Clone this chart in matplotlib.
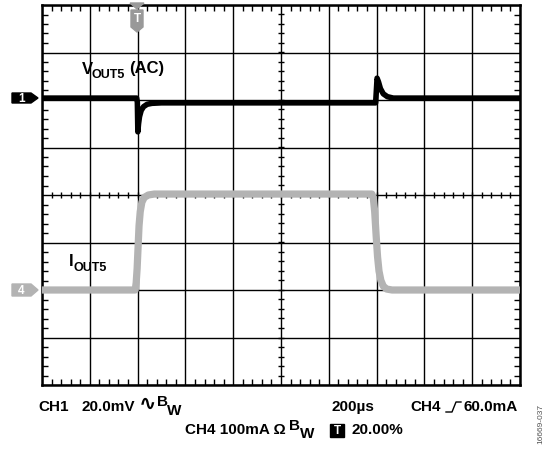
import matplotlib.pyplot as plt
import numpy as np
from matplotlib.patches import Polygon, Rectangle
from matplotlib.ticker import MultipleLocator

plt.rcParams["font.family"] = ["Liberation Sans", "DejaVu Sans"]

# time in us (200 us/div, trigger at 20% -> 400 us), level in divisions
ch1_t = [0, 396, 399, 401, 404, 408, 415, 425, 440, 460, 500, 1380, 1396, 1399, 1402, 1408, 1416, 1428, 1445, 1470, 2000]
ch1_v = [2.04, 2.04, 1.95, 1.33, 1.50, 1.65, 1.78, 1.86, 1.91, 1.93, 1.94, 1.94, 1.94, 2.20, 2.46, 2.38, 2.24, 2.13, 2.07, 2.04, 2.04]

ch4_t = [0, 390, 394, 398, 402, 406, 411, 418, 428, 445, 470, 1380, 1386, 1392, 1398, 1404, 1410, 1418, 1428, 1442, 1465, 2000]
ch4_v = [-2.0, -2.0, -1.85, -1.55, -1.1, -0.65, -0.35, -0.15, -0.05, 0.0, 0.02, 0.02, -0.05, -0.35, -0.85, -1.3, -1.6, -1.8, -1.92, -1.98, -2.0, -2.0]

gray = "#b3b3b3"
W, H = 548, 450

fig = plt.figure(figsize=(W / 100, H / 100), dpi=100)
ax = fig.add_axes([42 / W, (H - 385) / H, 478 / W, 380 / H])
ax.set_xlim(0, 2000)
ax.set_ylim(-4, 4)

ax.plot(ch4_t, ch4_v, color=gray, lw=5.2, solid_joinstyle="round", zorder=3)
ax.plot(ch1_t, ch1_v, color="black", lw=4.0, solid_joinstyle="round", zorder=4)

# graticule
ax.set_xticks(np.arange(0, 2001, 200))
ax.set_yticks(np.arange(-4, 5, 1))
ax.xaxis.set_minor_locator(MultipleLocator(40))
ax.yaxis.set_minor_locator(MultipleLocator(0.2))
ax.grid(True, which="major", color="black", lw=1.0)
ax.tick_params(which="major", length=0, labelbottom=False, labelleft=False)
ax.tick_params(which="minor", direction="in", length=4, width=1.0,
               top=True, right=True, bottom=True, left=True)
for s in ax.spines.values():
    s.set_linewidth(1.8)

mx = np.arange(40, 2000, 40)
my = np.arange(-3.8, 4.0, 0.2)
ax.plot(mx, np.zeros_like(mx), ls="none", marker="|", ms=4, mew=1.0, color="black", zorder=2)
ax.plot(np.full_like(my, 1000), my, ls="none", marker="_", ms=4, mew=1.0, color="black", zorder=2)

# overlay in pixel coordinates for labels and markers
ov = fig.add_axes([0, 0, 1, 1], zorder=10)
ov.set_xlim(0, W)
ov.set_ylim(H, 0)
ov.axis("off")
ov.patch.set_alpha(0)

bold = dict(fontweight="bold", color="black")

# trigger marker
ov.add_patch(Polygon([(130, 3), (144, 3), (137, 9)], color="#999999"))
ov.add_patch(Polygon([(131, 10), (143, 10), (143, 27), (137, 32), (131, 27)], color="#999999"))
ov.text(137, 18.5, "T", ha="center", va="center", color="white", fontsize=8.5, fontweight="bold")

# channel markers
ov.add_patch(Polygon([(12, 93), (31, 93), (38, 98), (31, 103), (12, 103)], color="black"))
ov.text(21.5, 98.5, "1", ha="center", va="center", color="white", fontsize=8.5, fontweight="bold")
ov.add_patch(Polygon([(12, 284), (31, 284), (38, 290), (31, 296), (12, 296)], color=gray))
ov.text(21.5, 290.5, "4", ha="center", va="center", color="white", fontsize=8.5, fontweight="bold")

# trace labels
ov.text(82, 70, "V", ha="left", va="center", fontsize=12, **bold)
ov.text(92, 75, "OUT5", ha="left", va="center", fontsize=9, **bold)
ov.text(129, 69, "(AC)", ha="left", va="center", fontsize=12, **bold)
ov.text(69, 262, "I", ha="left", va="center", fontsize=12, **bold)
ov.text(74, 268, "OUT5", ha="left", va="center", fontsize=9, **bold)

# bottom readout, line 1
fs = 11.0
ov.text(38, 407, "CH1", ha="left", va="center", fontsize=fs, **bold)
ov.text(81, 407, "20.0mV", ha="left", va="center", fontsize=fs, **bold)
ov.text(139, 404, "\u223f", ha="left", va="center", fontsize=15, family="DejaVu Sans", **bold)
ov.text(157, 402, "B", ha="left", va="center", fontsize=fs, **bold)
ov.text(167, 411, "W", ha="left", va="center", fontsize=fs, **bold)
ov.text(331, 407, "200\u00b5s", ha="left", va="center", fontsize=fs, **bold)
ov.text(410, 407, "CH4", ha="left", va="center", fontsize=fs, **bold)
ov.plot([446, 452, 456, 461], [412, 412, 402, 402], color="black", lw=1.0)
ov.text(463, 407, "60.0mA", ha="left", va="center", fontsize=fs, **bold)

# bottom readout, line 2
ov.text(185, 430, "CH4 100mA \u03a9", ha="left", va="center", fontsize=fs, **bold)
ov.text(289, 425.5, "B", ha="left", va="center", fontsize=fs, **bold)
ov.text(300, 434, "W", ha="left", va="center", fontsize=fs, **bold)
ov.add_patch(Rectangle((330, 423.5), 14, 13, color="black"))
ov.text(337, 430.5, "T", ha="center", va="center", color="white", fontsize=8.5, fontweight="bold")
ov.text(351, 430, "20.00%", ha="left", va="center", fontsize=fs, **bold)

ov.text(541, 424, "16669-037", ha="center", va="center", rotation=90,
        fontsize=6, color="#555555")

fig.savefig("out.png", dpi=100)
